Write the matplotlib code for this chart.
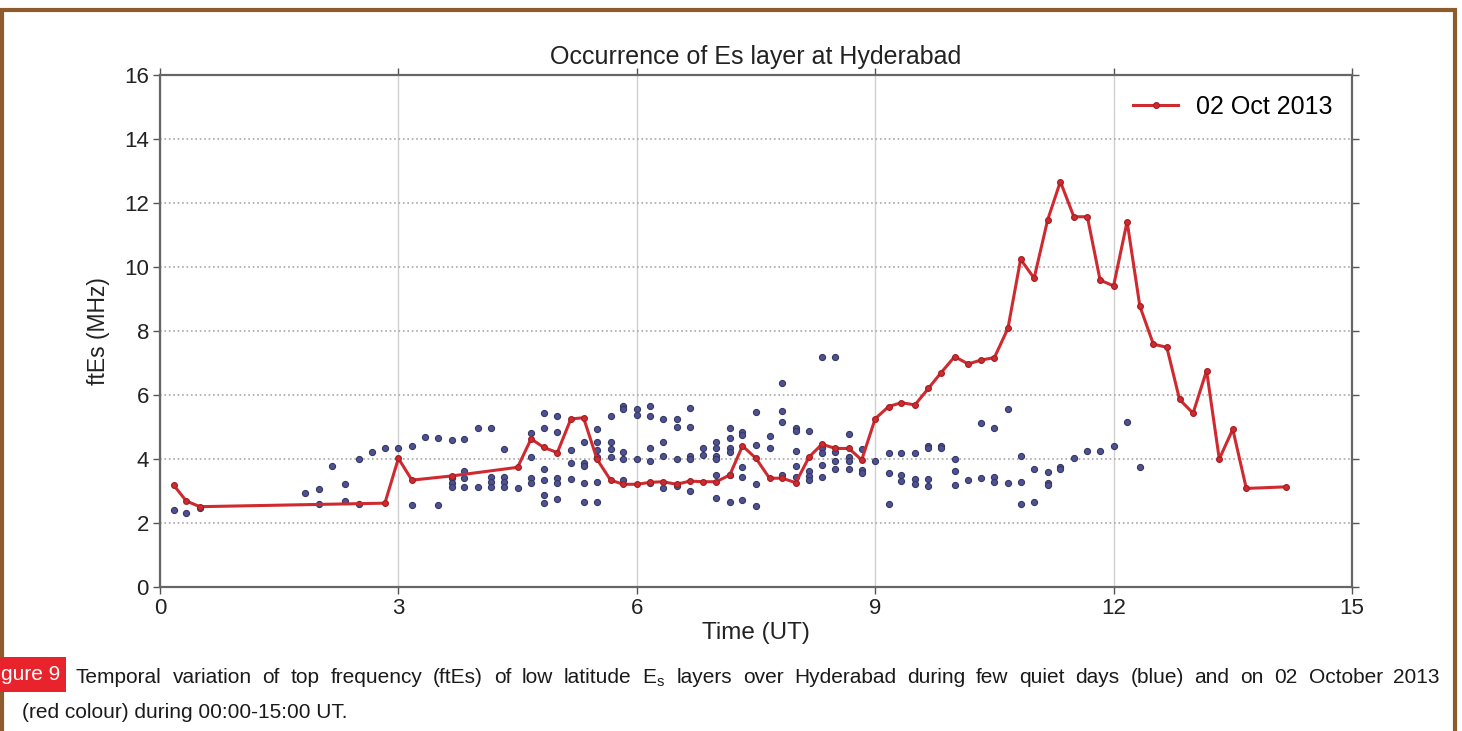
import matplotlib
matplotlib.use('Agg')
import matplotlib.pyplot as plt
from matplotlib.patches import Rectangle

plt.rcParams['font.family'] = ['Liberation Sans', 'DejaVu Sans']

# 02 Oct 2013 (red curve)
oct_t = [0.17, 0.33, 0.5, 2.83, 3.0, 3.17, 3.67, 4.5, 4.67, 4.83, 5.0, 5.17, 5.33, 5.5,
         5.67, 5.83, 6.0, 6.17, 6.33, 6.5, 6.67, 6.83, 7.0, 7.17, 7.33, 7.5, 7.67, 7.83,
         8.0, 8.17, 8.33, 8.5, 8.67, 8.83, 9.0, 9.17, 9.33, 9.5, 9.67, 9.83, 10.0, 10.17,
         10.33, 10.5, 10.67, 10.83, 11.0, 11.17, 11.33, 11.5, 11.67, 11.83, 12.0, 12.17,
         12.33, 12.5, 12.67, 12.83, 13.0, 13.17, 13.33, 13.5, 13.67, 14.17]
oct_f = [3.19, 2.69, 2.51, 2.62, 4.02, 3.34, 3.47, 3.74, 4.63, 4.36, 4.2, 5.25, 5.29, 3.99,
         3.34, 3.21, 3.21, 3.27, 3.29, 3.21, 3.31, 3.29, 3.29, 3.5, 4.41, 4.02, 3.4, 3.4,
         3.26, 4.07, 4.46, 4.33, 4.33, 3.97, 5.26, 5.64, 5.76, 5.69, 6.21, 6.7, 7.2, 6.97,
         7.09, 7.17, 8.08, 10.24, 9.65, 11.47, 12.67, 11.57, 11.57, 9.59, 9.41, 11.42,
         8.78, 7.59, 7.49, 5.86, 5.43, 6.76, 4.0, 4.93, 3.08, 3.13]

# quiet days (blue dots)
quiet_t = [0.17, 0.33, 0.5, 1.83, 2.0, 2.0, 2.17, 2.33, 2.33, 2.5, 2.5, 2.67, 2.83, 3.0,
           3.17, 3.17, 3.33, 3.5, 3.5, 3.67, 3.67, 3.67, 3.67, 3.83, 3.83, 3.83, 3.83,
           4.0, 4.0, 4.17, 4.17, 4.17, 4.17, 4.33, 4.33, 4.33, 4.33, 4.5,
           4.67, 4.67, 4.67, 4.67, 4.83, 4.83, 4.83, 4.83, 4.83, 4.83,
           5.0, 5.0, 5.0, 5.0, 5.0, 5.17, 5.17, 5.17, 5.33, 5.33, 5.33, 5.33, 5.33,
           5.5, 5.5, 5.5, 5.5, 5.5, 5.5, 5.67, 5.67, 5.67, 5.67,
           5.83, 5.83, 5.83, 5.83, 5.83, 6.0, 6.0, 6.0,
           6.17, 6.17, 6.17, 6.17, 6.17, 6.33, 6.33, 6.33, 6.33, 6.5, 6.5, 6.5, 6.5,
           6.67, 6.67, 6.67, 6.67, 6.67, 6.83, 6.83, 7.0, 7.0, 7.0, 7.0, 7.0, 7.0,
           7.17, 7.17, 7.17, 7.17, 7.17, 7.17, 7.33, 7.33, 7.33, 7.33, 7.33,
           7.5, 7.5, 7.5, 7.5, 7.67, 7.67, 7.83, 7.83, 7.83, 7.83,
           8.0, 8.0, 8.0, 8.0, 8.0, 8.17, 8.17, 8.17, 8.17, 8.33, 8.5,
           8.33, 8.33, 8.33, 8.33, 8.33, 8.5, 8.5, 8.5, 8.67, 8.67, 8.67, 8.67,
           8.83, 8.83, 8.83, 9.0, 9.17, 9.17, 9.17, 9.33, 9.33, 9.33, 9.5, 9.5, 9.5,
           9.67, 9.67, 9.67, 9.67, 9.83, 9.83, 10.0, 10.0, 10.0, 10.17, 10.33, 10.33,
           10.5, 10.5, 10.5, 10.67, 10.67, 10.83, 10.83, 10.83, 11.0, 11.0,
           11.17, 11.17, 11.17, 11.33, 11.33, 11.5, 11.67, 11.83, 12.0, 12.17, 12.33]
quiet_f = [2.41, 2.30, 2.46, 2.93, 3.06, 2.59, 3.79, 3.22, 2.70, 4.0, 2.59, 4.21, 4.35, 4.35,
           4.41, 2.56, 4.70, 4.67, 2.56, 4.59, 3.40, 3.26, 3.14, 4.61, 3.63, 3.40, 3.14,
           4.96, 3.14, 4.96, 3.45, 3.29, 3.14, 4.30, 3.45, 3.29, 3.14, 3.10,
           4.82, 4.07, 3.40, 3.26, 5.43, 4.96, 3.69, 3.34, 2.88, 2.64,
           5.34, 4.83, 3.40, 3.26, 2.74, 4.28, 3.86, 3.37, 4.54, 3.86, 3.78, 3.26, 2.65,
           4.93, 4.54, 4.28, 4.07, 3.29, 2.65, 5.34, 4.54, 4.30, 4.07,
           5.66, 5.55, 4.23, 3.99, 3.34, 5.55, 5.37, 3.99,
           5.66, 5.34, 4.33, 3.95, 3.24, 5.24, 4.54, 4.09, 3.08, 5.24, 4.99, 3.99, 3.17,
           5.60, 4.99, 4.09, 3.99, 3.01, 4.33, 4.13, 4.54, 4.33, 4.09, 3.99, 3.5, 2.77,
           4.96, 4.67, 4.33, 4.23, 3.5, 2.67, 4.85, 4.75, 3.74, 3.43, 2.72,
           5.48, 4.44, 3.22, 2.54, 4.72, 4.33, 6.37, 5.50, 5.17, 3.5,
           4.96, 4.89, 4.26, 3.78, 3.45, 4.89, 3.63, 3.47, 3.34, 7.18, 7.18,
           4.44, 4.33, 4.18, 3.81, 3.43, 4.23, 3.95, 3.69, 4.78, 4.05, 3.95, 3.69,
           4.30, 3.66, 3.57, 3.95, 4.18, 3.55, 2.59, 4.18, 3.5, 3.32, 4.18, 3.37, 3.21,
           4.41, 4.33, 3.37, 3.16, 4.41, 4.33, 3.99, 3.63, 3.19, 3.34, 5.11, 3.42,
           4.96, 3.43, 3.29, 5.55, 3.24, 4.09, 3.29, 2.59, 3.68, 2.67,
           3.60, 3.26, 3.19, 3.76, 3.68, 4.02, 4.26, 4.26, 4.41, 5.17, 3.76]

xticks = [0, 3, 6, 9, 12, 15]
yticks = [0, 2, 4, 6, 8, 10, 12, 14, 16]

caption1 = (r'Temporal variation of top frequency (ftEs) of low latitude E$_\mathregular{s}$ layers '
            'over Hyderabad during few quiet days (blue) and on 02 October 2013')
caption2 = '(red colour) during 00:00-15:00 UT.'

W, H = 1462, 731
fig = plt.figure(figsize=(W / 100, H / 100), dpi=100)
ax = fig.add_axes([160 / W, 1 - 587 / H, 1192 / W, 512 / H])

ax.plot(quiet_t, quiet_f, 'o', ls='none', ms=4.4, mfc='#4d5196', mec='#36385f', mew=0.8, zorder=3)
ax.plot(oct_t, oct_f, '-o', color='#cf2a2f', lw=2.2, ms=4.2, mfc='#cf2a2f', mec='#9e1f24',
        mew=0.8, label='02 Oct 2013', zorder=4)

ax.set_xlim(0, 15)
ax.set_ylim(0, 16)
ax.set_xticks(xticks)
ax.set_yticks(yticks)
ax.tick_params(direction='out', top=True, right=True, labelsize=16, length=5,
               color='#555555', width=1, labelcolor='#222222', pad=3)
ax.xaxis.grid(True, ls='-', color='#d0d0d0', lw=1)
ax.yaxis.grid(True, ls=':', color='#a8a8a8', lw=1.2)
ax.set_axisbelow(True)
for s in ax.spines.values():
    s.set_color('#666666')
    s.set_linewidth(1.6)

ax.set_title('Occurrence of Es layer at Hyderabad', fontsize=18, color='#222222', pad=8)
ax.set_xlabel('Time (UT)', fontsize=17.5, color='#222222', labelpad=2)
ax.set_ylabel('ftEs (MHz)', fontsize=16.5, color='#222222', labelpad=10)

leg = ax.legend(loc='upper right', frameon=False, fontsize=18, handlelength=1.8,
                borderaxespad=0.4, handletextpad=0.7)

# page frame
fig.patches.append(Rectangle((0.0015, -0.05), 0.9935, 1.036, transform=fig.transFigure,
                             fill=False, ec='#8d5b2c', lw=3, zorder=0))

# caption
fig.patches.append(Rectangle((0, 1 - 692 / H), 66 / W, 35 / H, transform=fig.transFigure,
                             fc='#e8232b', ec='none', zorder=1))
fig.text(1 / W, 1 - 675 / H, 'gure 9', color='white', fontsize=15, va='center', ha='left')

# first caption line is justified between x=76 and x=1440 px
renderer = fig.canvas.get_renderer()
words = caption1.split(' ')
texts = [fig.text(0, 1 - 683 / H, w, fontsize=15, color='#1a1a1a', va='baseline', ha='left')
         for w in words]
widths = [t.get_window_extent(renderer).width for t in texts]
gap = (1440 - 76 - sum(widths)) / (len(words) - 1)
x = 76
for t, w in zip(texts, widths):
    t.set_x(x / W)
    x += w + gap
fig.text(22 / W, 1 - 712 / H, caption2, fontsize=15, color='#1a1a1a', va='center', ha='left')

fig.savefig('out.png', dpi=100)
